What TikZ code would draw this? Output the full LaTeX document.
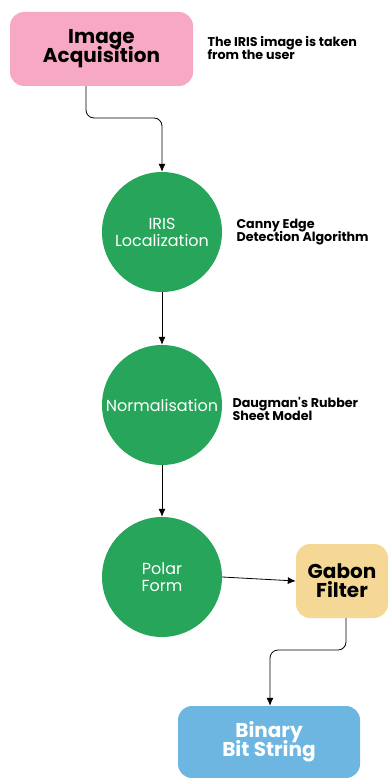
\documentclass[tikz,border=0pt]{standalone}
\usepackage{fontspec}
\setmainfont{Poppins}[Ligatures=TeXOff]
\usetikzlibrary{arrows.meta}
\definecolor{pinkbox}{HTML}{F7A8C4}
\definecolor{greenc}{HTML}{27A55A}
\definecolor{gabon}{HTML}{F6D896}
\definecolor{bluebox}{HTML}{6DB6E1}
\tikzset{
  roundbox/.style={rounded corners=14pt, inner sep=0pt, align=center, font=\bfseries\fontsize{20}{22}\selectfont},
  stage/.style={circle, fill=greenc, minimum size=120pt, inner sep=0pt, align=center, text=white, font=\fontsize{16}{19}\selectfont},
  note/.style={anchor=west, align=left, font=\bfseries\fontsize{12.7}{16}\selectfont},
  conn/.style={draw=black, line width=0.8pt, -{Latex[length=8pt,width=7pt]}, rounded corners=8pt}
}
\begin{document}
\begin{tikzpicture}[x=1pt,y=-1pt]
\useasboundingbox (0,0) rectangle (391,778);
\node[roundbox, fill=pinkbox, minimum width=183pt, minimum height=74pt] (acq) at (101.5,49) {Image\\[-3pt]Acquisition};
\node[note] (n1) at (204,48) {The IRIS image is taken\\[-3pt]from the user};
\node[stage] (loc) at (162,232) {IRIS\\[-2pt]Localization};
\node[note] (n2) at (233,232) {Canny Edge\\[-3pt]Detection Algorithm};
\node[stage] (nor) at (162,405) {Normalisation};
\node[note] (n3) at (229,409) {Daugman's Rubber\\[-3pt]Sheet Model};
\node[stage] (pol) at (162,577) {Polar\\[-2pt]Form};
\node[roundbox, fill=gabon, minimum width=92pt, minimum height=74pt] (gab) at (342,581) {Gabon\\[-3pt]Filter};
\node[roundbox, fill=bluebox, text=white, minimum width=182pt, minimum height=72pt] (bin) at (269,742) {Binary\\[-3pt]Bit String};
\coordinate (c1a) at (86,118);
\coordinate (c1b) at (162,118);
\draw[conn] (acq.south -| c1a) -- (c1a) -- (c1b) -- (loc.north);
\draw[conn] (loc.south) -- (nor.north);
\draw[conn] (nor.south) -- (pol.north);
\draw[conn] (pol.east) -- (gab.west);
\coordinate (c2a) at (346,650);
\coordinate (c2b) at (270,650);
\draw[conn] (gab.south -| c2a) -- (c2a) -- (c2b) -- (bin.north -| c2b);
\end{tikzpicture}
\end{document}
